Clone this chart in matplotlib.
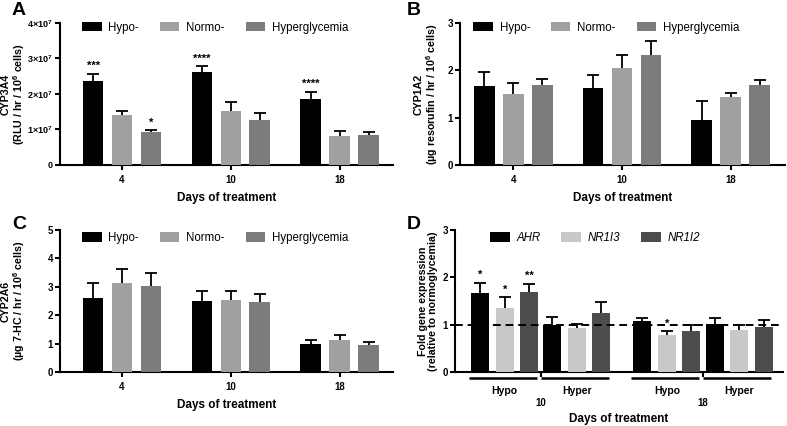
import numpy as np
import matplotlib
matplotlib.use('Agg')
import matplotlib.pyplot as plt
from matplotlib.ticker import FuncFormatter

# Datos
dias = ['4', '10', '18']
grupos = ['Hypo-', 'Normo-', 'Hyperglycemia']

cyp3a4_media = [[2.36e7, 2.61e7, 1.87e7],
                [1.40e7, 1.53e7, 0.83e7],
                [0.92e7, 1.26e7, 0.85e7]]
cyp3a4_sup = [[2.57e7, 2.78e7, 2.06e7],
              [1.51e7, 1.77e7, 0.95e7],
              [0.98e7, 1.46e7, 0.92e7]]
cyp3a4_signif = [['***', '****', '****'], ['', '', ''], ['*', '', '']]

cyp1a2_media = [[1.67, 1.62, 0.95],
                [1.51, 2.04, 1.44],
                [1.68, 2.32, 1.68]]
cyp1a2_sup = [[1.96, 1.90, 1.36],
              [1.73, 2.32, 1.53],
              [1.82, 2.63, 1.80]]

cyp2a6_media = [[2.62, 2.51, 1.00],
                [3.13, 2.54, 1.12],
                [3.04, 2.46, 0.94]]
cyp2a6_sup = [[3.13, 2.86, 1.14],
              [3.62, 2.86, 1.29],
              [3.47, 2.74, 1.07]]

genes = ['AHR', 'NR1I3', 'NR1I2']
condiciones_d = ['Hypo', 'Hyper', 'Hypo', 'Hyper']
dias_d = ['10', '18']
genes_media = [[1.67, 1.00, 1.07, 1.02],
               [1.35, 0.94, 0.78, 0.89],
               [1.69, 1.24, 0.87, 0.96]]
genes_sup = [[1.88, 1.17, 1.15, 1.15],
             [1.58, 1.01, 0.86, 1.00],
             [1.86, 1.48, 1.00, 1.09]]
genes_signif = [['*', '', '', ''], ['*', '', '*', ''], ['**', '', '', '']]

colores = ['#000000', '#a0a0a0', '#7c7c7c']
colores_d = ['#000000', '#c8c8c8', '#4d4d4d']

plt.rcParams['font.family'] = ['Liberation Sans', 'DejaVu Sans']
plt.rcParams['font.weight'] = 'bold'
plt.rcParams['mathtext.fontset'] = 'custom'
plt.rcParams['mathtext.rm'] = 'Liberation Sans:bold'
plt.rcParams['mathtext.bf'] = 'Liberation Sans:bold'
plt.rcParams['mathtext.it'] = 'Liberation Sans:bold:italic'

W, H = 787, 426
fig = plt.figure(figsize=(W / 100, H / 100), dpi=100)


def crear_ejes(izq, der, arriba, abajo):
    ax = fig.add_axes([izq / W, 1 - abajo / H, (der - izq) / W, (abajo - arriba) / H])
    ax.spines['top'].set_visible(False)
    ax.spines['right'].set_visible(False)
    ax.spines['left'].set_linewidth(1.5)
    ax.spines['bottom'].set_linewidth(1.5)
    ax.tick_params(direction='out', length=3.5, width=1.5, labelsize=7)
    ax.tick_params(axis='y', pad=1.5)
    return ax


def barras(ax, medias, superiores, cols, etiquetas, paso, ancho, x, signif=None):
    n = len(medias)
    for i in range(n):
        pos = x + (i - (n - 1) / 2) * paso
        med = np.array(medias[i])
        err = np.array(superiores[i]) - med
        ax.bar(pos, med, width=ancho, color=cols[i], label=etiquetas[i], zorder=3)
        ax.errorbar(pos, med, yerr=err, fmt='none', ecolor='black',
                    elinewidth=1.3, capsize=4.5, capthick=1.3, zorder=2)
        if signif is not None:
            for j, s in enumerate(signif[i]):
                if s:
                    ax.annotate(s, (pos[j], superiores[i][j]), xytext=(0, 2),
                                textcoords='offset points', ha='center',
                                va='bottom', fontsize=8, fontweight='bold')


def leyenda(ax, ax_x, ax_y, italica=False):
    leg = ax.legend(loc='upper left', bbox_to_anchor=(ax_x, ax_y), ncol=3,
                    frameon=False, fontsize=8.3, handlelength=1.7,
                    handleheight=0.9, handletextpad=0.6, columnspacing=1.8,
                    borderaxespad=0, borderpad=0)
    for t in leg.get_texts():
        t.set_fontweight('normal')
        if italica:
            t.set_fontstyle('italic')


def etiqueta_panel(x, y, letra):
    fig.text(x / W, 1 - y / H, letra, fontsize=14, fontweight='bold',
             va='top', ha='left')


def textos_ejes(ax, ylab, ylab_x, xlab_y):
    ax.set_ylabel(ylab, fontsize=7.7, fontweight='bold', linespacing=1.05)
    ax.yaxis.set_label_coords(ylab_x, 0.5)
    ax.set_xlabel('Days of treatment', fontsize=8.5, fontweight='bold')
    ax.xaxis.set_label_coords(0.5, xlab_y)


x = np.arange(len(dias))

# Panel A
axA = crear_ejes(60, 393, 23, 165)
barras(axA, cyp3a4_media, cyp3a4_sup, colores, grupos, 0.266, 0.19, x, cyp3a4_signif)
axA.set_xlim(-0.57, 2.49)
axA.set_ylim(0, 4e7)
axA.set_yticks([0, 1e7, 2e7, 3e7, 4e7])
axA.yaxis.set_major_formatter(FuncFormatter(
    lambda v, p: '0' if v == 0 else r'$%d{\times}10^{7}$' % round(v / 1e7)))
axA.tick_params(axis='y', labelsize=6.5)
axA.set_xticks(x, dias)
textos_ejes(axA, 'CYP3A4\n(RLU / hr / 10$^{6}$ cells)', -0.1, -0.19)
leyenda(axA, 0.066, 1.01)

# Panel B
axB = crear_ejes(460, 785, 23, 165)
barras(axB, cyp1a2_media, cyp1a2_sup, colores, grupos, 0.266, 0.19, x)
axB.set_xlim(-0.49, 2.50)
axB.set_ylim(0, 3)
axB.set_yticks([0, 1, 2, 3])
axB.set_xticks(x, dias)
textos_ejes(axB, 'CYP1A2\n(µg resorufin / hr / 10$^{6}$ cells)', -0.062, -0.19)
leyenda(axB, 0.04, 1.01)

# Panel C
axC = crear_ejes(60, 393, 230, 372)
barras(axC, cyp2a6_media, cyp2a6_sup, colores, grupos, 0.266, 0.19, x)
axC.set_xlim(-0.57, 2.49)
axC.set_ylim(0, 5)
axC.set_yticks([0, 1, 2, 3, 4, 5])
axC.set_xticks(x, dias)
textos_ejes(axC, 'CYP2A6\n(µg 7-HC / hr / 10$^{6}$ cells)', -0.1, -0.19)
leyenda(axC, 0.066, 0.985)

# Panel D
axD = crear_ejes(455, 783, 230, 372)
xd = np.array([0, 1, 2.25, 3.25])
barras(axD, genes_media, genes_sup, colores_d, genes, 0.34, 0.25, xd, genes_signif)
axD.axhline(1, color='black', lw=1.4, ls=(0, (4, 2.5)), zorder=4)
axD.set_xlim(-0.69, 3.86)
axD.set_ylim(0, 3)
axD.set_yticks([0, 1, 2, 3])
centros_dia = [(xd[0] + xd[1]) / 2, (xd[2] + xd[3]) / 2]
axD.set_xticks(centros_dia, dias_d)
axD.tick_params(axis='x', pad=15)
trans = axD.get_xaxis_transform()
for pos, cond in zip(xd, condiciones_d):
    axD.plot([pos - 0.5, pos + 0.45], [-0.042, -0.042], color='black', lw=1.8,
             transform=trans, clip_on=False, solid_capstyle='butt')
    axD.text(pos, -0.1, cond, transform=trans, ha='center', va='top',
             fontsize=7.5, fontweight='bold')
textos_ejes(axD, 'Fold gene expression\n(relative to normoglycemia)', -0.052, -0.29)
leyenda(axD, 0.107, 0.985, italica=True)

etiqueta_panel(12, 2, 'A')
etiqueta_panel(407, 2, 'B')
etiqueta_panel(12, 216, 'C')
etiqueta_panel(407, 216, 'D')

fig.savefig('out.png', dpi=100)
